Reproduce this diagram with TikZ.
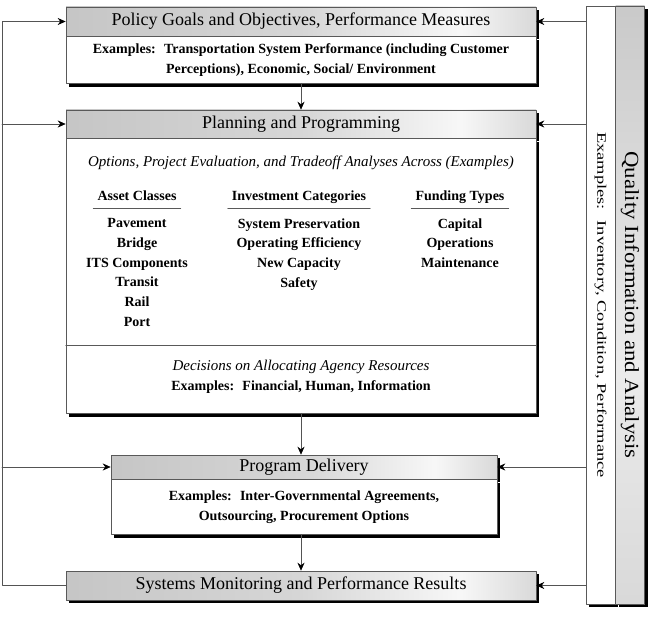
\documentclass[tikz,border=0pt]{standalone}
\usepackage{fontspec}
\setmainfont{Liberation Serif}
\usepackage{graphicx}
\usetikzlibrary{arrows.meta, positioning, shadows}

% header and side bar shadings
\pgfdeclarehorizontalshading{headshade}{100bp}{color(0bp)=(gray!45); color(25bp)=(gray!45); color(50bp)=(gray!32); color(67bp)=(gray!6); color(75bp)=(gray!30); color(100bp)=(gray!30)}
\pgfdeclareverticalshading{barshade}{100bp}{color(0bp)=(gray!30); color(25bp)=(gray!30); color(45bp)=(gray!15); color(75bp)=(gray!42); color(100bp)=(gray!42)}

\begin{document}
\begin{tikzpicture}[x=1pt, y=-1pt, line cap=round, line join=round,
  box/.style={draw=gray!70!black, line width=0.6pt, fill=white, inner sep=0pt,
    drop shadow={shadow xshift=3pt, shadow yshift=-3pt, fill=black, opacity=1}},
  head/.style={box, shade, shading=headshade, font=\fontsize{18}{20}\selectfont},
  bodytext/.style={font=\fontsize{14}{20}\selectfont\bfseries, align=center},
  itext/.style={font=\fontsize{15}{20}\selectfont\itshape},
  colhead/.style={font=\fontsize{14}{20}\selectfont\bfseries, text height=10pt, text depth=3pt, inner xsep=4pt, inner ysep=4.5pt},
  itemlist/.style={font=\fontsize{14}{19.8}\selectfont\bfseries, align=center, inner sep=0pt},
  rule/.style={draw=gray!70!black, line width=0.8pt},
  link/.style={draw=gray!65!black, line width=0.7pt},
  flow/.style={link, -{Stealth[length=8pt, width=7pt, black]}}]

  \useasboundingbox (0,0) rectangle (649,623);

  \def\W{470pt}      % width of the wide boxes
  \def\Wd{386pt}     % width of the delivery box

  % Policy goals
  \node[head, minimum width=\W, minimum height=29pt] (policyhead) at (301,21.5)
    {Policy Goals and Objectives, Performance Measures};
  \node[box, bodytext, anchor=north, minimum width=\W, minimum height=47pt] (policybody) at (policyhead.south)
    {Examples:~ Transportation System Performance (including Customer\\ Perceptions), Economic, Social/ Environment};

  % Planning and programming
  \node[head, minimum width=\W, minimum height=28pt] (planhead) at (301,124) {Planning and Programming};
  \node[box, anchor=north, minimum width=\W, minimum height=275pt] (planbody) at (planhead.south) {};

  \node[itext] (options) at (301,163) {Options, Project Evaluation, and Tradeoff Analyses Across (Examples)};
  \node[colhead] (assets)  at (137,197) {Asset Classes};
  \node[colhead] (invest)  at (299,197) {Investment Categories};
  \node[colhead] (funding) at (460,197) {Funding Types};
  \foreach \c in {assets, invest, funding}
    \draw[rule] (\c.south west) -- (\c.south east);

  \node[itemlist, below=10pt of assets] (assetlist)
    {Pavement\\ Bridge\\ ITS Components\\ Transit\\ Rail\\ Port};
  \node[itemlist, below=10pt of invest] (investlist)
    {System Preservation\\ Operating Efficiency\\ New Capacity\\ Safety};
  \node[itemlist, below=10pt of funding] (fundinglist)
    {Capital\\ Operations\\ Maintenance};

  % divider
  \draw[rule, line width=0.6pt] (planbody.west |- 0,345) -- (planbody.east |- 0,345);
  \node[itext] (decide) at (301,367) {Decisions on Allocating Agency Resources};
  \node[bodytext] (resources) at (301,387) {Examples:~ Financial, Human, Information};

  % Program delivery
  \node[head, minimum width=\Wd, minimum height=24pt] (deliveryhead) at (304,467) {Program Delivery};
  \node[box, bodytext, anchor=north, minimum width=\Wd, minimum height=55pt] (deliverybody) at (deliveryhead.south)
    {Examples:~ Inter-Governmental Agreements,\\ Outsourcing, Procurement Options};

  % Monitoring
  \node[head, minimum width=\W, minimum height=29pt] (monitor) at (301,585.5)
    {Systems Monitoring and Performance Results};

  % Quality information bar
  \node[box, minimum width=29pt, minimum height=598pt] (qualitybody) at (600.5,305) {};
  \node[box, shade, shading=barshade, minimum width=29pt, minimum height=598pt, right=0pt of qualitybody] (qualityhead) {};
  \node[rotate=-90, font=\fontsize{20}{22}\selectfont] (qualitytitle) at (qualityhead)
    {\scalebox{1.14}[1]{Quality Information and Analysis}};
  \node[rotate=-90, font=\fontsize{13}{15}\selectfont] (qualityexamples) at (qualitybody)
    {\scalebox{1.42}[1]{Examples:~ Inventory, Condition, Performance}};

  % Downward flow
  \draw[flow] (policybody.south) -- (planhead.north);
  \draw[flow] (planbody.south) -- (planbody.south |- deliveryhead.north);
  \draw[flow] (planbody.south |- deliverybody.south) -- (planbody.south |- monitor.north);

  % Feedback loop on the left
  \coordinate (loopleft) at (2,0);
  \draw[flow] (monitor.west) -- (monitor.west -| loopleft) |- (policyhead.west);
  \draw[flow] (planhead.west -| loopleft) -- (planhead.west);
  \draw[flow] (deliveryhead.west -| loopleft) -- (deliveryhead.west);

  % Information feeding every stage
  \foreach \b in {policyhead, planhead, deliveryhead, monitor}
    \draw[flow] (\b.east -| qualitybody.west) -- (\b.east);

\end{tikzpicture}
\end{document}
